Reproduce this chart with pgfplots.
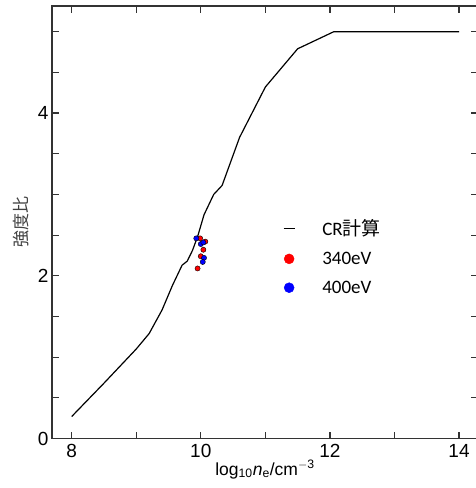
\documentclass[border=0pt]{standalone}
\usepackage{fontspec}
\setmainfont{Liberation Sans}
\newfontfamily\cjk{Noto Sans CJK JP}
\newfontfamily\leg{Carlito}
\usepackage{pgfplots}
\pgfplotsset{compat=1.18}
\begin{document}
\begin{tikzpicture}
\begin{axis}[
  at={(52pt,49.5pt)}, anchor=south west,
  scale only axis, width=426pt, height=432.5pt,
  xmin=7.695, xmax=14.294, ymin=0, ymax=5.316,
  axis line style={line width=1.4pt, black!80},
  tick style={line width=1.2pt, black!80},
  tick align=inside, major tick length=7pt,
  xtick={8,9,...,14}, xticklabels={8,,10,,12,,14},
  ytick={0,0.5,...,5}, yticklabels={0,,,,2,,,,4,,},
  /pgf/number format/assume math mode=true,
  tick label style={font=\fontsize{19}{21}\selectfont},
  xticklabel style={yshift=-2pt},
  xlabel={log\textsubscript{10}\textit{n}\textsubscript{e}/cm\textsuperscript{$-$3}},
  xlabel style={font=\fontsize{17.5}{19}\selectfont, yshift=4pt},
  ylabel={\cjk 強度比},
  ylabel style={font=\fontsize{17}{19}\selectfont, text=black!75, yshift=2pt},
  legend cell align=left,
  legend style={draw=none, fill=none, at={(axis cs:11.27,2.72)}, anchor=north west,
    font=\leg\fontsize{19}{21}\selectfont, inner sep=0pt, row sep=11pt,
    nodes={inner sep=2pt}, column sep=25pt},
]
\addplot[black, line width=1.2pt, legend image code/.code={\draw[black, line width=1.3pt] (0pt,0pt) -- (11pt,0pt);}] coordinates {
(8.0,0.27) (8.5,0.68) (9.0,1.1) (9.2,1.29) (9.4,1.58) (9.56,1.88) (9.71,2.13)
(9.79,2.18) (9.87,2.31) (9.95,2.48) (10.05,2.75) (10.2,3.0) (10.33,3.11)
(10.6,3.7) (11.0,4.32) (11.5,4.79) (12.06,5.0) (14.0,5.0)
};
\addlegendentry{CR{\cjk 計算}}
\addplot[only marks, mark=*, mark size=2.6pt, mark options={fill=red, draw=none},
  legend image code/.code={\fill[red] (5.5pt,0pt) circle (5pt);}] coordinates {
(9.99,2.46) (10.07,2.42) (10.04,2.32) (10.0,2.24) (9.95,2.09)
};
\addlegendentry{340eV}
\addplot[only marks, mark=*, mark size=2.6pt, mark options={fill=blue, draw=none},
  legend image code/.code={\fill[blue] (5.5pt,0pt) circle (5pt);}] coordinates {
(9.93,2.46) (10.0,2.39) (10.04,2.41) (10.05,2.22) (10.03,2.17)
};
\addlegendentry{400eV}
\end{axis}
\pgfresetboundingbox
\path[use as bounding box] (0pt,0pt) rectangle (475pt,488pt);
\end{tikzpicture}
\end{document}
